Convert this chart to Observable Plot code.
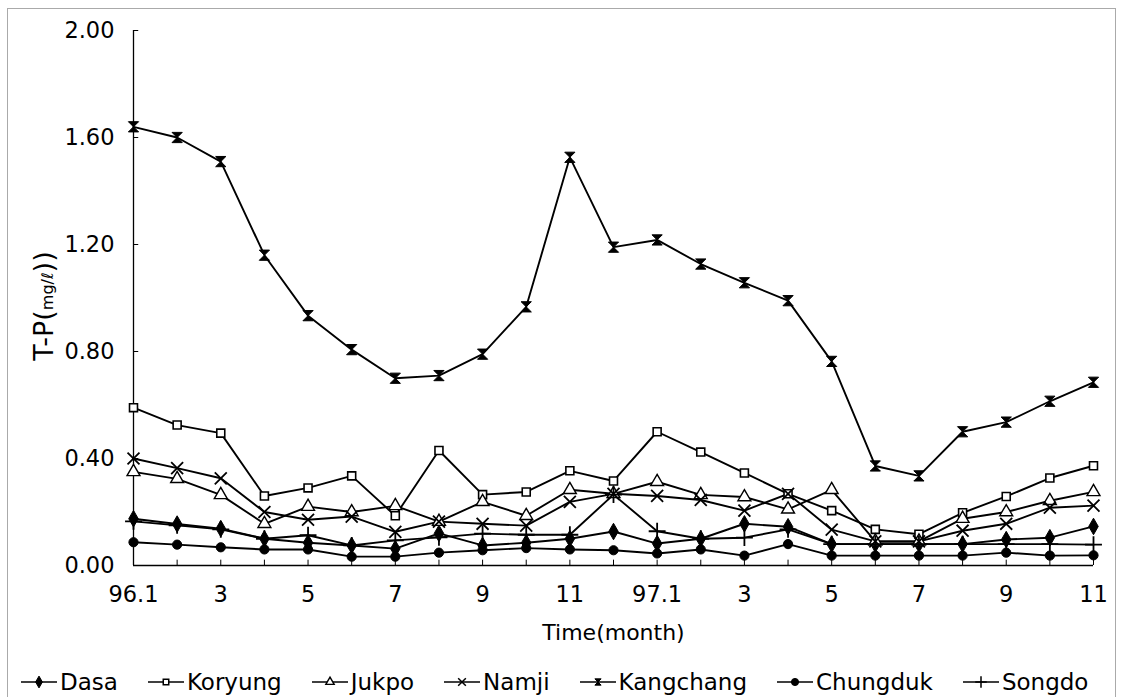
<!DOCTYPE html>
<html><head><meta charset="utf-8">
<script src="https://cdn.jsdelivr.net/npm/d3@7"></script>
<script src="https://cdn.jsdelivr.net/npm/@observablehq/plot@0.6"></script>
<style>
body{margin:0;background:#fff;font-family:"DejaVu Sans",sans-serif;}
#wrap{position:relative;width:1122px;height:697px;overflow:hidden;background:#fff}
#legend{display:flex;gap:30px;padding-left:21px;align-items:center;height:40px;font-size:23px;line-height:26px;color:#000;padding-top:7px}
.item{display:flex;align-items:center;gap:3px}
#box{position:absolute;left:7px;top:8px;width:1107px;height:700px;border:1px solid #aaa;pointer-events:none}
</style></head>
<body><div id="wrap"><div id="chart"></div><div id="legend"></div><div id="box"></div></div>
<script>
const months = d3.range(1, 24);
const tickMonths = [1,3,5,7,9,11,13,15,17,19,21,23];
const tickLabels = ["96.1","3","5","7","9","11","97.1","3","5","7","9","11"];
const yTicks = [0,0.4,0.8,1.2,1.6,2.0];
const seriesNames = ["Dasa","Koryung","Jukpo","Namji","Kangchang","Chungduk","Songdo"];

const dasa      = [0.175,0.155,0.138,0.10,0.085,0.075,0.063,0.12,0.075,0.085,0.10,0.127,0.082,0.10,0.156,0.145,0.08,0.08,0.08,0.08,0.097,0.104,0.146];
const koryung   = [0.59,0.525,0.495,0.26,0.29,0.335,0.186,0.43,0.265,0.275,0.354,0.316,0.50,0.424,0.346,0.268,0.205,0.135,0.117,0.197,0.258,0.327,0.373];
const jukpo     = [0.35,0.324,0.264,0.156,0.22,0.20,0.223,0.164,0.238,0.186,0.283,0.268,0.313,0.264,0.256,0.21,0.283,0.09,0.09,0.175,0.20,0.242,0.275];
const namji     = [0.40,0.364,0.326,0.20,0.171,0.183,0.126,0.164,0.156,0.149,0.238,0.268,0.26,0.245,0.205,0.268,0.134,0.09,0.09,0.13,0.156,0.216,0.224];
const kangchang = [1.64,1.60,1.51,1.16,0.934,0.807,0.70,0.71,0.79,0.967,1.526,1.19,1.217,1.127,1.057,0.99,0.763,0.372,0.335,0.50,0.536,0.614,0.685];
const chungduk  = [0.087,0.078,0.068,0.06,0.06,0.033,0.033,0.048,0.057,0.065,0.06,0.057,0.045,0.06,0.037,0.08,0.037,0.037,0.037,0.037,0.048,0.037,0.038];
const songdo    = [0.165,0.15,0.135,0.10,0.113,0.075,0.094,0.105,0.119,0.115,0.115,0.265,0.128,0.10,0.104,0.135,0.08,0.08,0.08,0.08,0.08,0.08,0.078];

const hourglass = {draw(ctx, size){ const s = Math.sqrt(size)/2*1.05; ctx.moveTo(-s,-s); ctx.lineTo(s,-s); ctx.lineTo(-s,s); ctx.lineTo(s,s); ctx.closePath(); }};

const values = [dasa, koryung, jukpo, namji, kangchang, chungduk, songdo];
const styles = [
  {symbol: d3.symbolDiamond, fill: "black", stroke: "black", r: 5, sw: 1, lsize: 40},
  {symbol: d3.symbolSquare, fill: "white", stroke: "black", r: 4.5, sw: 1.6, lsize: 30},
  {symbol: d3.symbolTriangle, fill: "white", stroke: "black", r: 4.8, sw: 1.4, lsize: 30},
  {symbol: d3.symbolTimes, fill: "none", stroke: "black", r: 5.5, sw: 1.8, lsize: 40},
  {symbol: hourglass, fill: "black", stroke: "black", r: 5.5, sw: 1, lsize: 36},
  {symbol: d3.symbolCircle, fill: "black", stroke: "black", r: 4.6, sw: 1, lsize: 40},
  {symbol: d3.symbolPlus, fill: "none", stroke: "black", r: 5.5, sw: 1.8, lsize: 45}
];

const table = [];
seriesNames.forEach((name, k) => values[k].forEach((v, i) => table.push({series: name, month: months[i], value: v})));

const marks = [
  Plot.ruleY([0], {stroke: "black", strokeWidth: 1.3}),
  Plot.ruleX([1], {stroke: "black", strokeWidth: 1.3}),
  Plot.ruleX(months, {x: d => d, y1: 0, y2: 0.02, stroke: "black", strokeWidth: 1}),
  Plot.ruleY(yTicks, {y: d => d, x1: 1, x2: 1.12, stroke: "black", strokeWidth: 1})
];
seriesNames.forEach((name, k) => {
  const d = table.filter(r => r.series === name);
  marks.push(Plot.line(d, {x: "month", y: "value", stroke: "black", strokeWidth: 1.9}));
});
seriesNames.forEach((name, k) => {
  const d = table.filter(r => r.series === name);
  const s = styles[k];
  marks.push(Plot.dot(d, {x: "month", y: "value", symbol: () => s.symbol, r: s.r, fill: s.fill, stroke: s.stroke, strokeWidth: s.sw}));
});
marks.push(
  Plot.axisY({ticks: yTicks, tickFormat: d3.format(".2f"), tickSize: 0, tickPadding: 19, label: null, fontSize: 22.5}),
  Plot.axisX({ticks: tickMonths, tickFormat: d => tickLabels[tickMonths.indexOf(d)], tickSize: 0, tickPadding: 21, label: null, fontSize: 22.5}),
  Plot.text(["Time(month)"], {frameAnchor: "bottom", dy: 74, fontSize: 22, fill: "black"}),
  Plot.text(["T-P(mg/ℓ))"], {frameAnchor: "left", textAnchor: "middle", dx: -89, dy: 8, rotate: -90, fontSize: 27, fill: "black"})
);

const chart = Plot.plot({
  width: 1122, height: 655,
  marginTop: 30, marginBottom: 90, marginLeft: 133, marginRight: 29,
  x: {domain: [1, 23]},
  y: {domain: [0, 2]},
  symbol: {type: "identity"},
  style: {fontFamily: "DejaVu Sans", fontSize: "22.5px", color: "black", background: "white", overflow: "visible"},
  marks
});
document.getElementById("chart").appendChild(chart);

d3.select(chart).selectAll("text").each(function(){
  if (this.textContent === "T-P(mg/ℓ))") {
    const t = d3.select(this);
    t.text(null);
    t.append("tspan").text("T-P(");
    t.append("tspan").attr("font-size", 16).text("mg/ℓ");
    t.append("tspan").text("))");
  }
});

const legend = d3.select("#legend");
seriesNames.forEach((name, k) => {
  const s = styles[k];
  const it = legend.append("div").attr("class", "item");
  const svg = it.append("svg").attr("width", 36).attr("height", 16);
  svg.append("line").attr("x1", 0).attr("x2", 36).attr("y1", 8).attr("y2", 8).attr("stroke", "black").attr("stroke-width", 1.7);
  svg.append("path").attr("transform", "translate(18,8)").attr("d", d3.symbol(s.symbol, s.lsize)())
    .attr("fill", s.fill).attr("stroke", s.stroke).attr("stroke-width", Math.min(s.sw, 1.5));
  it.append("span").text(name);
});
</script></body></html>
